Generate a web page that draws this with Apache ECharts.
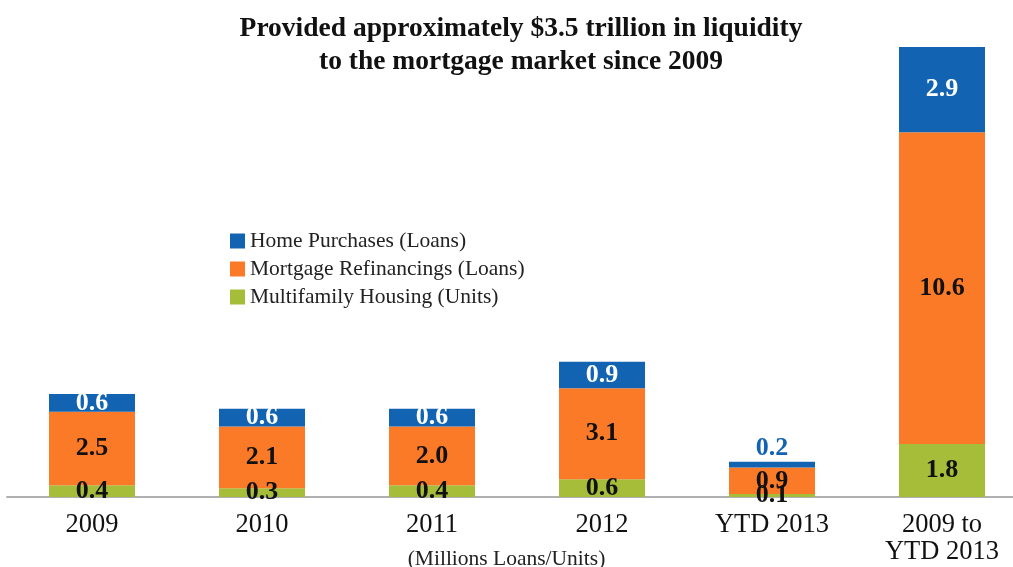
<!DOCTYPE html>
<html><head><meta charset="utf-8">
<script src="https://cdn.jsdelivr.net/npm/echarts@6/dist/echarts.min.js"></script>
<style>html,body{margin:0;padding:0;background:#fff}#c{width:1013px;height:567px}</style>
</head><body><div id="c"></div>
<script>
const categories = ['2009', '2010', '2011', '2012', 'YTD 2013', '2009 to\nYTD 2013'];
const multifamily = [0.4, 0.3, 0.4, 0.6, 0.1, 1.8];
const refinancings = [2.5, 2.1, 2.0, 3.1, 0.9, 10.6];
const purchases = [0.6, 0.6, 0.6, 0.9, 0.2, 2.9];
const seriesNames = ['Home Purchases (Loans)', 'Mortgage Refinancings (Loans)', 'Multifamily Housing (Units)'];
const axisTitle = '(Millions Loans/Units)';

const FONT = '"Liberation Serif", "DejaVu Serif", serif';
const C_BLUE = '#1264b2', C_ORANGE = '#fb7a28', C_GREEN = '#a5bd39';
const lbl = (color) => ({show: true, position: 'inside', color: color, fontFamily: FONT, fontWeight: 'bold', fontSize: 26,
  formatter: p => p.value.toFixed(1)});

const chart = echarts.init(document.getElementById('c'));
chart.setOption({
  animation: false,
  title: {text: 'Provided approximately $3.5 trillion in liquidity\nto the mortgage market since 2009', left: 516, top: 7, textAlign: 'center',
    textStyle: {fontFamily: FONT, fontWeight: 'bold', fontSize: 27.5, color: '#111', lineHeight: 33}},
  legend: {orient: 'vertical', left: 225, top: 225, itemWidth: 15, itemHeight: 15, itemGap: 6,
    icon: 'rect', data: seriesNames,
    textStyle: {fontFamily: FONT, fontSize: 21.5, color: '#222', padding: [0, 0, 0, 0]}},
  grid: {left: 7, top: 26.4, width: 1020, height: 470.6, containLabel: false, outerBoundsMode: 'none'},
  xAxis: {type: 'category', data: categories,
    axisLine: {lineStyle: {color: '#b0b0b0', width: 2}}, axisTick: {show: false},
    axisLabel: {fontFamily: FONT, fontSize: 26.5, color: '#111', margin: 15, lineHeight: 27}},
  yAxis: {type: 'value', min: 0, max: 16, show: false, splitLine: {show: false}},
  graphic: [{type: 'text', left: 'center', top: 548,
    style: {text: axisTitle, font: '21.5px ' + FONT, fill: '#222'}}],
  series: [
    {name: seriesNames[2], type: 'bar', stack: 's', barWidth: 86, itemStyle: {color: C_GREEN}, label: lbl('#111'), data: multifamily},
    {name: seriesNames[1], type: 'bar', stack: 's', itemStyle: {color: C_ORANGE}, label: lbl('#111'), data: refinancings},
    {name: seriesNames[0], type: 'bar', stack: 's', itemStyle: {color: C_BLUE}, label: lbl('#fff'),
      data: purchases.map((v, i) => i === 4 ? {value: v, label: {position: 'top', color: C_BLUE, distance: 0}} : v)}
  ]
});
</script></body></html>
